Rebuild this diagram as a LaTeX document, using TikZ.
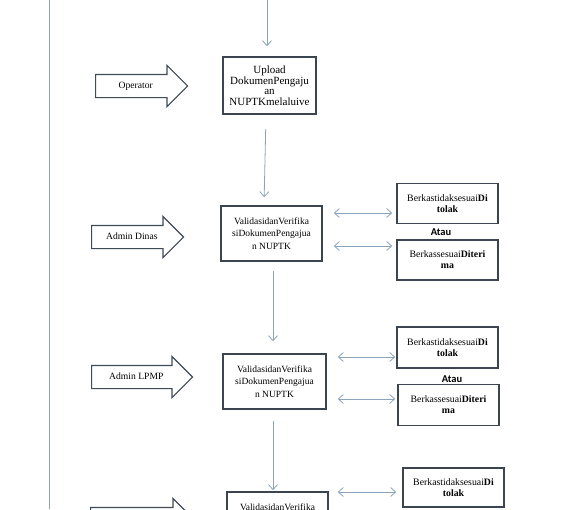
\documentclass[tikz,border=0pt]{standalone}
\usepackage{fontspec}
\setmainfont{Liberation Serif}
\newfontfamily\ataufont{Carlito}
\usetikzlibrary{arrows.meta, shapes.arrows}
\definecolor{boxcol}{HTML}{3A4550}
\definecolor{lcol}{HTML}{8CA3BC}
\definecolor{acol}{HTML}{3F4B57}

\begin{document}
\begin{tikzpicture}[x=1pt,y=-1pt,>={Straight Barb[length=5pt,width=9pt]},
  box/.style={draw=boxcol,line width=1.6pt,fill=white,align=center,inner sep=1pt,font=\fontsize{9.5}{12.5}\selectfont},
  res/.style={box,minimum width=101pt,minimum height=40pt,font=\fontsize{9.8}{11}\selectfont},
  conn/.style={->,lcol,line width=0.8pt},
  dbl/.style={<->,lcol,line width=0.8pt},
  blk/.style={single arrow,draw=acol,line width=1.2pt,fill=white,single arrow head extend=9pt,
    single arrow tip angle=90,inner ysep=6.5pt,text height=7pt,text depth=2pt,anchor=tail,font=\fontsize{9.6}{10}\selectfont}]
\useasboundingbox (0,0) rectangle (569,509);
\coordinate (lt) at (49,0);
\coordinate (lb) at (49,509);
\draw[lcol,line width=0.9pt] (lt)--(lb);
% boxes
\node[box,minimum width=93pt,minimum height=57pt,font=\fontsize{11}{10.5}\selectfont] (upl) at (269.5,85.5) {Upload\\DokumenPengaju\\an\\NUPTKmelaluive};
\node[box,minimum width=101pt,minimum height=55pt] (val1) at (271.5,233.5) {ValidasidanVerifika\\siDokumenPengajua\\n NUPTK};
\node[box,minimum width=103pt,minimum height=55pt] (val2) at (274.5,381.5) {ValidasidanVerifika\\siDokumenPengajua\\n NUPTK};
\node[box,minimum width=101pt,minimum height=55pt] (val3) at (277.5,519.5) {ValidasidanVerifika\\siDokumenPengajua\\n NUPTK};
\node[res] (tol1) at (447.5,203.5) {Berkastidaksesuai\textbf{Di}\\\textbf{tolak}};
\node[res] (ter1) at (447.5,260) {Berkassesuai\textbf{Diteri}\\\textbf{ma}};
\node[res,minimum height=41pt] (tol2) at (447.5,347.5) {Berkastidaksesuai\textbf{Di}\\\textbf{tolak}};
\node[res,minimum height=41pt] (ter2) at (448.5,405) {Berkassesuai\textbf{Diteri}\\\textbf{ma}};
\node[res,minimum height=39pt] (tol3) at (453.5,487.5) {Berkastidaksesuai\textbf{Di}\\\textbf{tolak}};
\node[font=\ataufont\bfseries\fontsize{10.5}{11}\selectfont] (atau1) at (441,232) {Atau};
\node[font=\ataufont\bfseries\fontsize{10.5}{11}\selectfont] (atau2) at (452,379) {Atau};
% actors
\node[blk,minimum height=92pt] (opr) at (95,86) {Operator};
\node[blk,minimum height=92pt] (adin) at (91,237) {Admin Dinas};
\node[blk,minimum height=101pt] (alpmp) at (91,377) {Admin LPMP};
\node[blk,minimum height=103pt] (aakhir) at (90,519) {};
% flow
\coordinate (top) at (267,0);
\draw[conn,shorten >=10pt] (top) -- (top |- upl.north);
\draw[conn,shorten <=14pt,shorten >=8pt] ([xshift=-3.5pt]upl.south) -- ([xshift=-7.5pt]val1.north);
\draw[conn,shorten <=9pt,shorten >=12pt] ([xshift=1.5pt]val1.south) -- ([xshift=-1.5pt]val2.north);
\draw[conn,shorten <=11pt,shorten >=1pt] ([xshift=-1.5pt]val2.south) -- ([xshift=-4.5pt]val3.north);
\coordinate (d1) at ([yshift=20.5pt]val1.east);
\coordinate (d2) at ([yshift=-12.5pt]val1.east);
\coordinate (d3) at ([yshift=24.5pt]val2.east);
\coordinate (d4) at ([yshift=-17.5pt]val2.east);
\coordinate (d5) at ([yshift=27.5pt]val3.east);
\draw[dbl,shorten <=11pt,shorten >=4pt] (d1) -- (d1 -| tol1.west);
\draw[dbl,shorten <=11pt,shorten >=4pt] (d2) -- (d2 -| ter1.west);
\draw[dbl,shorten <=11pt,shorten >=1pt] (d3) -- (d3 -| tol2.west);
\draw[dbl,shorten <=11pt,shorten >=2pt] (d4) -- (d4 -| ter2.west);
\draw[dbl,shorten <=9pt,shorten >=6pt] (d5) -- (d5 -| tol3.west);
\end{tikzpicture}
\end{document}
